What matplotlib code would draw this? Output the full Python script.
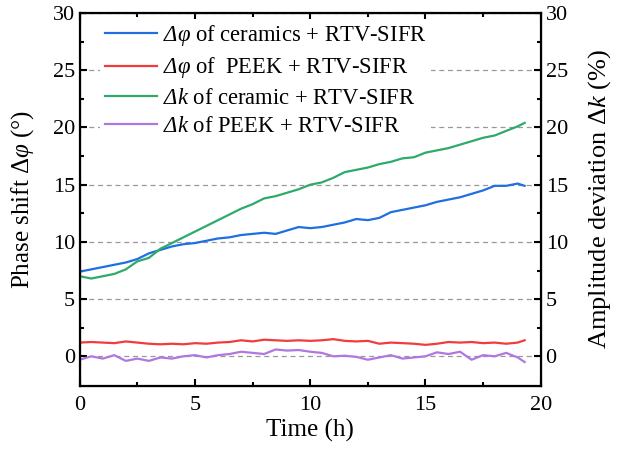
import matplotlib.pyplot as plt
import numpy as np

plt.rcParams['font.family'] = 'Liberation Serif'
# custom math fonts: rm is italic so a capital Delta can be slanted, sf stays upright
plt.rcParams['mathtext.fontset'] = 'custom'
plt.rcParams['mathtext.rm'] = 'Liberation Serif:italic'
plt.rcParams['mathtext.it'] = 'Liberation Serif:italic'
plt.rcParams['mathtext.sf'] = 'Liberation Serif'

# time axis (h), sampled every half hour up to the end of the run
t = np.append(np.arange(0, 19.01, 0.5), 19.3)

dphi_ceramic = [7.4, 7.6, 7.8, 8.0, 8.2, 8.5, 9.0, 9.3, 9.6, 9.8,
                9.9, 10.1, 10.3, 10.4, 10.6, 10.7, 10.8, 10.7, 11.0, 11.3,
                11.2, 11.3, 11.5, 11.7, 12.0, 11.9, 12.1, 12.6, 12.8, 13.0,
                13.2, 13.5, 13.7, 13.9, 14.2, 14.5, 14.9, 14.9, 15.1, 14.9]
dphi_peek = [1.2, 1.25, 1.2, 1.15, 1.3, 1.2, 1.1, 1.05, 1.1, 1.05,
             1.15, 1.1, 1.2, 1.25, 1.4, 1.3, 1.45, 1.4, 1.35, 1.4,
             1.35, 1.4, 1.5, 1.35, 1.3, 1.35, 1.1, 1.2, 1.15, 1.1,
             1.0, 1.1, 1.25, 1.2, 1.25, 1.15, 1.2, 1.1, 1.2, 1.4]
dk_ceramic = [7.0, 6.8, 7.0, 7.2, 7.6, 8.3, 8.6, 9.4, 9.9, 10.4,
              10.9, 11.4, 11.9, 12.4, 12.9, 13.3, 13.8, 14.0, 14.3, 14.6,
              15.0, 15.2, 15.6, 16.1, 16.3, 16.5, 16.8, 17.0, 17.3, 17.4,
              17.8, 18.0, 18.2, 18.5, 18.8, 19.1, 19.3, 19.7, 20.1, 20.4]
dk_peek = [-0.3, 0.0, -0.2, 0.1, -0.4, -0.2, -0.4, -0.1, -0.2, 0.0,
           0.1, -0.1, 0.1, 0.2, 0.4, 0.3, 0.2, 0.6, 0.5, 0.55,
           0.4, 0.3, 0.0, 0.05, -0.05, -0.3, -0.1, 0.1, -0.2, -0.1,
           0.0, 0.35, 0.2, 0.4, -0.3, 0.1, 0.0, 0.3, -0.1, -0.5]

labels = [r'$\mathrm{\Delta}\varphi$ of ceramics + RTV-SIFR',
          r'$\mathrm{\Delta}\varphi$ of  PEEK + RTV-SIFR',
          r'$\mathrm{\Delta}k$ of ceramic + RTV-SIFR',
          r'$\mathrm{\Delta}k$ of PEEK + RTV-SIFR']
colors = ['#1f6fe0', '#f03c3c', '#2eaa6a', '#b077e0']

fig = plt.figure(figsize=(6.18, 4.51), dpi=100)
ax = fig.add_axes([0.129, 0.144, 0.746, 0.827])

for y, lab, c in zip([dphi_ceramic, dphi_peek, dk_ceramic, dk_peek], labels, colors):
    ax.plot(t, y, color=c, lw=1.6, label=lab)

ax.set_xlim(0, 20)
ax.set_ylim(-2.6, 30)
ax.set_xticks(np.arange(0, 21, 5))
ax.set_yticks(np.arange(0, 31, 5))
ax.set_xticks(np.arange(0, 20.1, 2.5), minor=True)
ax.set_yticks(np.arange(0, 30.1, 2.5), minor=True)
ax.yaxis.grid(True, color='#999999', lw=0.9, linestyle=(0, (4, 3)))
ax.tick_params(which='both', direction='in', top=True, labelsize=16, width=1.5)
ax.tick_params(which='major', length=5)
ax.tick_params(which='minor', length=3)
ax.tick_params(axis='x', pad=7)
for s in ax.spines.values():
    s.set_linewidth(1.6)

ax.set_xlabel('Time (h)', fontsize=18, labelpad=3)
ax.set_ylabel(r'Phase shift $\mathsf{\Delta}\varphi$ (°)', fontsize=18, labelpad=12)

ax2 = ax.twinx()
ax2.set_ylim(ax.get_ylim())
ax2.set_yticks(np.arange(0, 31, 5))
ax2.set_yticks(np.arange(0, 30.1, 2.5), minor=True)
ax2.tick_params(which='both', direction='in', labelsize=16, width=1.5)
ax2.tick_params(which='major', length=5)
ax2.tick_params(which='minor', length=3)
ax2.set_ylabel(r'Amplitude deviation $\mathsf{\Delta}k$ (%)', fontsize=19, labelpad=13)

leg = ax.legend(loc='upper left', bbox_to_anchor=(0.045, 0.985), fontsize=16.3,
                handlelength=2.3, handletextpad=0.25, labelspacing=0.32,
                borderpad=0.2, borderaxespad=0, frameon=True,
                fancybox=False, edgecolor='none', facecolor='white', framealpha=1)

fig.savefig('out.png', dpi=100)
